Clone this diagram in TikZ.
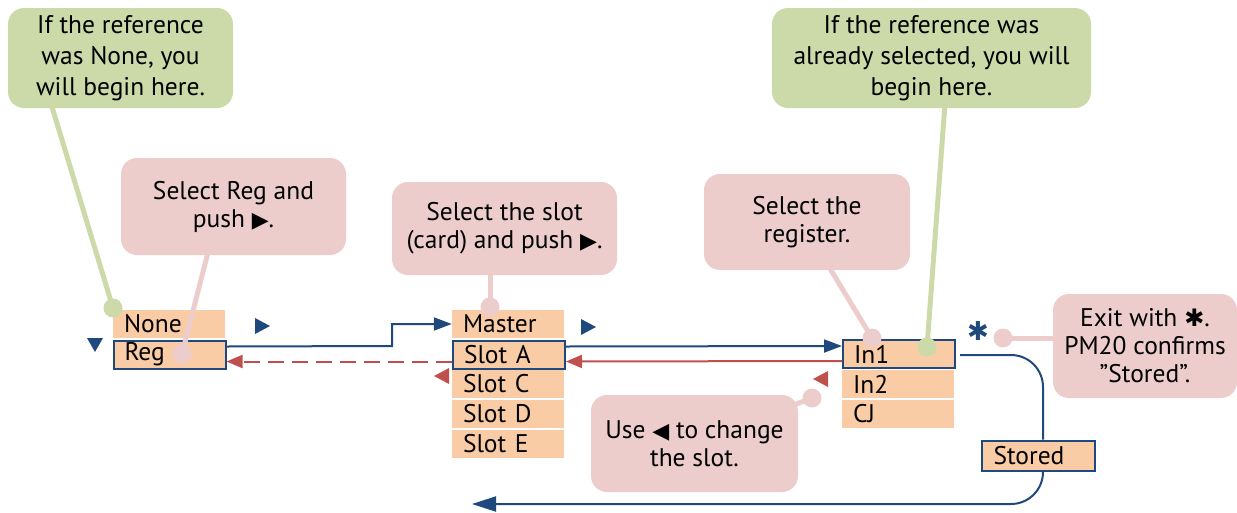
\documentclass[tikz,border=0pt]{standalone}
\usepackage{fontspec}
\setmainfont{PT Sans}
\newfontfamily\symf{DejaVu Sans}
\usetikzlibrary{calc,arrows.meta}

\definecolor{boxfill}{RGB}{250,204,166}
\definecolor{pinkC}{RGB}{236,205,204}
\definecolor{greenC}{RGB}{204,218,170}
\definecolor{blueC}{RGB}{31,73,125}
\definecolor{redC}{RGB}{192,80,77}

\newcommand{\rtri}{{\symf\fontsize{22}{22}\selectfont ▶}}
\newcommand{\ltri}{{\symf\fontsize{22}{22}\selectfont ◀}}
\newcommand{\hstar}{{\symf\bfseries\fontsize{24}{24}\selectfont ✱}}

\tikzset{
  txt/.style={font=\fontsize{25.5}{28}\selectfont},
  menu/.style={txt, fill=boxfill, minimum width=112pt, minimum height=28pt,
    text width=90pt, inner xsep=11pt, inner ysep=0pt, align=left},
  sel/.style={menu, draw=blueC, line width=2pt},
  callout/.style={txt, rounded corners=16pt, align=center, inner sep=0pt},
  pinkbox/.style={callout, fill=pinkC},
  greenbox/.style={callout, fill=greenC, font=\fontsize{25.5}{31}\selectfont},
  pinkline/.style={draw=pinkC, line width=5pt},
  greenline/.style={draw=greenC, line width=5pt},
  pinkdot/.style={circle, fill=pinkC, minimum size=19pt, inner sep=0pt},
  greendot/.style={circle, fill=greenC, minimum size=19pt, inner sep=0pt},
  bline/.style={draw=blueC, line width=2pt},
  barrow/.style={bline, -{Triangle[length=18pt,width=13pt]}},
  rarrow/.style={draw=redC, line width=2pt, -{Triangle[length=16pt,width=13pt]}},
}

\begin{document}
\begin{tikzpicture}[x=1pt,y=-1pt]
\useasboundingbox (0,0) rectangle (1237,512);

% --- menu columns ---
\node[menu] (None)   at (169,324) {None};
\node[sel]  (Reg)    at (169.5,354.5) {Reg};

\node[menu] (Master) at (508,324) {Master};
\node[sel]  (SlotA)  at (509,354.5) {Slot A};
\node[menu] (SlotC)  at (508,384) {Slot C};
\node[menu] (SlotD)  at (508,414) {Slot D};
\node[menu] (SlotE)  at (508,444) {Slot E};

\node[sel]  (In1)    at (899,354) {In1};
\node[menu] (In2)    at (898,384) {In2};
\node[menu] (CJ)     at (898,414) {CJ};

\node[sel, minimum width=113pt, minimum height=30pt] (Stored) at (1038.5,455.5) {Stored};

% --- direction marks ---
\fill[blueC] (95,345) ++(-8,-7) -- ++(16,0) -- ++(-8,14) -- cycle;
\fill[blueC] (262,326) ++(-7,-8) -- ++(15,8) -- ++(-15,8) -- cycle;
\fill[blueC] (588,327) ++(-7,-8) -- ++(15,8) -- ++(-15,8) -- cycle;
\fill[redC]  (441,376) ++(8,-8) -- ++(-15,8) -- ++(15,8) -- cycle;
\fill[redC]  (820,379) ++(8,-8) -- ++(-15,8) -- ++(15,8) -- cycle;
\node[text=blueC, font=\symf\bfseries\fontsize{26}{26}\selectfont, inner sep=0pt] (star) at (978,331) {✱};

% --- flow connectors ---
\coordinate (bendA) at (392,346);
\draw[barrow] ($(Reg.east)+(0,-8)$) -- (bendA) |- (Master.west);
\draw[barrow] ($(SlotA.east)+(0,-8)$) -- ($(In1.west)+(0,-8)$);
\draw[rarrow] ($(In1.west)+(0,7)$) -- ($(SlotA.east)+(0,7)$);
\draw[rarrow, dash pattern=on 16pt off 8pt] ($(SlotA.west)+(0,7)$) -- ($(Reg.east)+(0,7)$);

\coordinate (exitA) at (960,355);
\coordinate (exitEnd) at (472,504);
\draw[bline, rounded corners=32pt] (exitA) -| ($(Stored.north)+(4.5,0)$);
\draw[barrow, -{Triangle[length=24pt,width=15pt]}, rounded corners=32pt] ($(Stored.south)+(4.5,0)$) |- (exitEnd);

% --- callouts ---
\node[greenbox, minimum width=225pt, minimum height=100pt] (g1) at (120.5,58)
  {If the reference\\was None, you\\will begin here.};
\node[greenbox, minimum width=319pt, minimum height=100pt] (g2) at (931.5,58)
  {If the reference was\\already selected, you will\\begin here.};
\node[pinkbox, minimum width=225pt, minimum height=97pt] (p1) at (233.5,206.5)
  {Select Reg and\\push \rtri.};
\node[pinkbox, minimum width=225pt, minimum height=93pt] (p2) at (504.5,228.5)
  {Select the slot\\(card) and push \rtri.};
\node[pinkbox, minimum width=206pt, minimum height=96pt] (p3) at (807,222)
  {Select the\\register.};
\node[pinkbox, minimum width=184pt, minimum height=104pt] (p4) at (1145,346)
  {Exit with \hstar.\\PM20 confirms\\”Stored”.};
\node[pinkbox, minimum width=207pt, minimum height=97pt] (p5) at (694.5,443.5)
  {Use \ltri\ to change\\the slot.};

% --- callout pointers ---
\node[greendot] (gd1) at (113,308) {};
\node[greendot] (gd2) at (927,347) {};
\node[pinkdot]  (pd1) at (182,354) {};
\node[pinkdot]  (pd2) at (490,307) {};
\node[pinkdot]  (pd3) at (872,338) {};
\node[pinkdot]  (pd4) at (1003,338) {};
\node[pinkdot]  (pd5) at (812,398) {};

\draw[greenline] ($(g1.south west)+(44,-2)$) -- (gd1.center);
\draw[greenline] ($(g2.south west)+(173,-2)$) -- (gd2.center);
\draw[pinkline]  ($(p1.south west)+(87,-2)$) -- (pd1.center);
\draw[pinkline]  ($(p2.south)+(-14.5,-2)$) -- (pd2.center);
\draw[pinkline]  ($(p3.south west)+(126,-2)$) -- (pd3.center);
\draw[pinkline]  ($(p4.west)+(2,-8)$) -- (pd4.center);
\draw[pinkline]  ($(p5.north east)+(-4,10)$) -- (pd5.center);
\end{tikzpicture}
\end{document}
